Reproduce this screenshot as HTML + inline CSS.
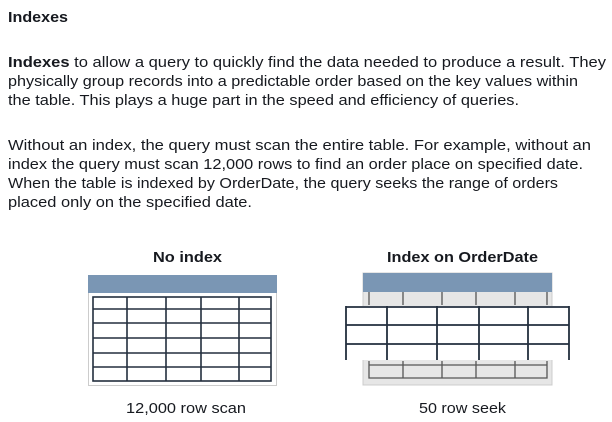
<!DOCTYPE html>
<html><head><meta charset="utf-8"><style>
html,body{margin:0;padding:0;background:#fff;}
svg{display:block;font-family:"Liberation Sans",sans-serif;}
</style></head><body>
<svg width="612" height="422" viewBox="0 0 612 422">
<g fill="#16191f" font-size="15">
<text x="8" y="22" font-weight="bold" font-size="15" textLength="60" lengthAdjust="spacingAndGlyphs">Indexes</text>
<text x="8" y="67" textLength="598" lengthAdjust="spacingAndGlyphs"><tspan font-weight="bold">Indexes</tspan> to allow a query to quickly find the data needed to produce a result. They</text>
<text x="8" y="86" textLength="570" lengthAdjust="spacingAndGlyphs">physically group records into a predictable order based on the key values within</text>
<text x="8" y="105" textLength="511" lengthAdjust="spacingAndGlyphs">the table. This plays a huge part in the speed and efficiency of queries.</text>
<text x="8" y="150" textLength="583" lengthAdjust="spacingAndGlyphs">Without an index, the query must scan the entire table. For example, without an</text>
<text x="8" y="169" textLength="575" lengthAdjust="spacingAndGlyphs">index the query must scan 12,000 rows to find an order place on specified date.</text>
<text x="8" y="188" textLength="550" lengthAdjust="spacingAndGlyphs">When the table is indexed by OrderDate, the query seeks the range of orders</text>
<text x="8" y="207" textLength="244" lengthAdjust="spacingAndGlyphs">placed only on the specified date.</text>
<text x="153" y="262" font-weight="bold" font-size="15" textLength="69" lengthAdjust="spacingAndGlyphs">No index</text>
<text x="387" y="262" font-weight="bold" font-size="15" textLength="151" lengthAdjust="spacingAndGlyphs">Index on OrderDate</text>
<text x="126" y="413" font-size="15" textLength="120" lengthAdjust="spacingAndGlyphs">12,000 row scan</text>
<text x="419" y="413" font-size="15" textLength="87" lengthAdjust="spacingAndGlyphs">50 row seek</text>
</g>
<g>
<rect x="88.5" y="275.5" width="188" height="110" fill="#fff" stroke="#ccc"/>
<rect x="88" y="275" width="189" height="18" fill="#7a96b4"/>
<g stroke="#232f3e" stroke-width="1.6" fill="none">
<rect x="93" y="297" width="178" height="84"/>
<path d="M93 309H271M93 323H271M93 338H271M93 353H271M93 367H271"/>
<path d="M127 297V381M166 297V381M201 297V381M239 297V381"/>
</g>
</g>
<g>
<rect x="363" y="273" width="189" height="112" fill="#e6e6e6" stroke="#ccc"/>
<rect x="363" y="273" width="189" height="19" fill="#7a96b4"/>
<g stroke="#555" stroke-width="1.3" fill="none">
<path d="M369 305V292M547 305V292M403 292V305M442 292V305M476 292V305M515 292V305"/>
<path d="M369 361V378H547V361M369 365H547M403 361V378M442 361V378M476 361V378M515 361V378"/>
</g>
<rect x="346" y="306" width="223" height="54" fill="#fff"/>
<g stroke="#232f3e" stroke-width="1.8" fill="none">
<path d="M346 307H569M346 325H569M346 344H569"/>
<path d="M346 306V360M387 306V360M437 306V360M479 306V360M528 306V360M569 306V360"/>
</g>
</g>
</svg>
</body></html>
